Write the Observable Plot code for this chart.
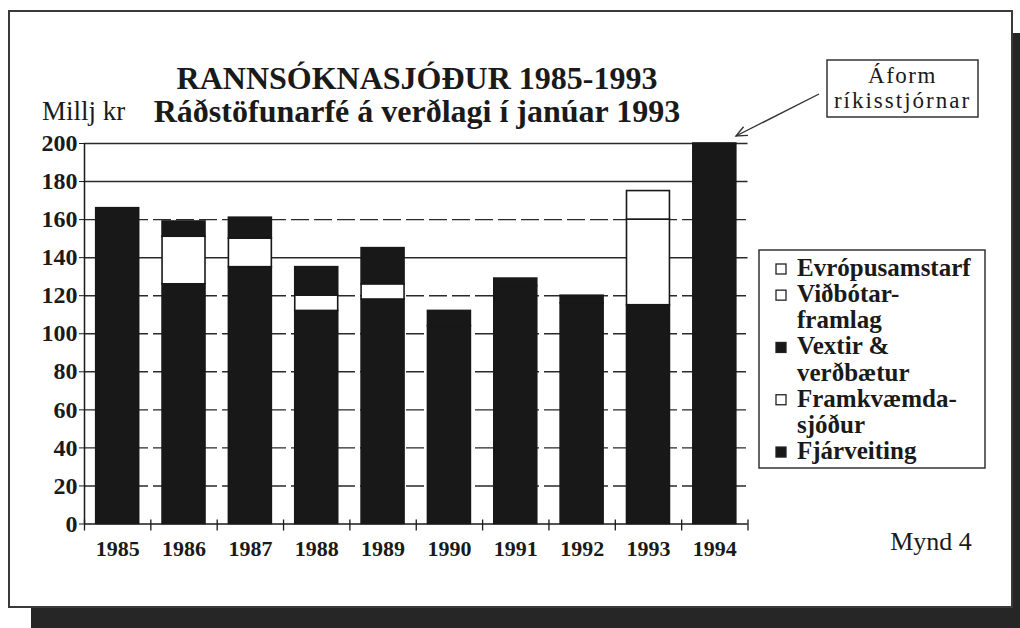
<!DOCTYPE html>
<html>
<head>
<meta charset="utf-8">
<script src="https://cdn.jsdelivr.net/npm/d3@7"></script>
<script src="https://cdn.jsdelivr.net/npm/@observablehq/plot@0.6"></script>
<style>
  body { margin: 0; background: #fff; }
  #page { position: relative; width: 1020px; height: 628px; overflow: hidden; background: #fff;
          font-family: "Liberation Serif", "Times New Roman", serif; color: #1a1a1a; }
  #shadow { position: absolute; left: 31px; top: 33px; width: 1100px; height: 700px; background: #262626; }
  #frame { position: absolute; left: 8px; top: 10px; width: 1001px; height: 594px;
           border: 2px solid #3a3a3a; background: #fff; }
  #chart, #overlay { position: absolute; left: 0; top: 0; }
</style>
</head>
<body>
<div id="page">
  <div id="shadow"></div>
  <div id="frame"></div>
  <div id="chart"></div>
  <svg id="overlay" width="1020" height="628" font-family="Liberation Serif, Times New Roman, serif" fill="#1a1a1a"></svg>
</div>
<script>
// ---------- data (Millj kr, verðlag í janúar 1993) ----------
const years = ["1985", "1986", "1987", "1988", "1989", "1990", "1991", "1992", "1993", "1994"];
const fjarveiting       = [166, 126, 135, 112, 118, 104, 125, 116, 115, 200];
const framkvaemdasjodur = [  0,  25,  15,   8,   8,   0,   0,   0,   0,   0];
const vextir            = [  0,   8,  11,  15,  19,   8,   4,   4,   0,   0];
const vidbotarframlag   = [  0,   0,   0,   0,   0,   0,   0,   0,  45,   0];
const evropusamstarf    = [  0,   0,   0,   0,   0,   0,   0,   0,  15,   0];

// stacking order, bottom to top
const seriesNames = ["Fjárveiting", "Framkvæmdasjóður", "Vextir & verðbætur", "Viðbótarframlag", "Evrópusamstarf"];
const seriesValues = [fjarveiting, framkvaemdasjodur, vextir, vidbotarframlag, evropusamstarf];
const seriesColors = ["#181818", "#ffffff", "#181818", "#ffffff", "#ffffff"];

const yTicks = [0, 20, 40, 60, 80, 100, 120, 140, 160, 180, 200];
const gridSolid = [140, 180, 200];
const gridDashed = [20, 40, 60, 80, 100, 120, 160];

// legend, top to bottom, with its printed line breaks
const legendEntries = [
  {series: "Evrópusamstarf", lines: ["Evrópusamstarf"]},
  {series: "Viðbótarframlag", lines: ["Viðbótar-", "framlag"]},
  {series: "Vextir & verðbætur", lines: ["Vextir &", "verðbætur"]},
  {series: "Framkvæmdasjóður", lines: ["Framkvæmda-", "sjóður"]},
  {series: "Fjárveiting", lines: ["Fjárveiting"]}
];

// ---------- table built from the arrays ----------
const rows = [];
years.forEach((year, i) => {
  let base = 0;
  seriesNames.forEach((s, k) => {
    const v = seriesValues[k][i];
    if (v > 0) rows.push({i, year, series: s, y1: base, y2: base + v});
    base += v;
  });
});
const index = years.map((_, i) => i);
const boundaries = years.map((_, i) => i - 0.5).concat([years.length - 0.5]);

const ink = "#1a1a1a";
const chart = Plot.plot({
  width: 1020,
  height: 628,
  marginLeft: 84,
  marginRight: 272.5,
  marginTop: 143,
  marginBottom: 104.5,
  style: {background: "transparent", fontFamily: "Liberation Serif, Times New Roman, serif", color: ink, overflow: "visible"},
  x: {domain: [-0.5, years.length - 0.5], axis: null},
  y: {domain: [0, 200], axis: null},
  color: {domain: seriesNames, range: seriesColors},
  marks: [
    Plot.ruleY(gridDashed, {stroke: "#2a2a2a", strokeWidth: 1.4, strokeDasharray: "18,5"}),
    Plot.ruleY(gridSolid, {stroke: "#2a2a2a", strokeWidth: 1.5}),
    Plot.rectY(rows, {
      x1: d => d.i - 0.5, x2: d => d.i + 0.5, y1: "y1", y2: "y2",
      fill: "series", stroke: "#181818", strokeWidth: 1.6,
      insetLeft: 11.7, insetRight: 11.7
    }),
    Plot.ruleY([0], {stroke: ink, strokeWidth: 1.5}),
    Plot.ruleX([-0.5], {stroke: ink, strokeWidth: 1.5}),
    Plot.ruleX(boundaries, {y1: 0, y2: 0, insetTop: -4, insetBottom: -7, stroke: ink, strokeWidth: 1.3}),
    Plot.axisY({ticks: yTicks, tickSize: 5, tickPadding: 2, fontSize: 24, fontWeight: "bold", label: null, anchor: "left"}),
    Plot.axisX({ticks: index, tickFormat: i => years[i], tickSize: 0, tickPadding: 16, fontSize: 22, fontWeight: "bold", label: null, anchor: "bottom"})
  ]
});
document.getElementById("chart").append(chart);

// ---------- titles, annotation, legend ----------
const svg = d3.select("#overlay");
svg.append("text").attr("x", 417).attr("y", 89).attr("text-anchor", "middle")
  .attr("font-size", 32).attr("font-weight", "bold").text("RANNSÓKNASJÓÐUR 1985-1993");
svg.append("text").attr("x", 417).attr("y", 122).attr("text-anchor", "middle")
  .attr("font-size", 32).attr("font-weight", "bold").text("Ráðstöfunarfé á verðlagi í janúar 1993");
svg.append("text").attr("x", 42).attr("y", 120).attr("font-size", 27).text("Millj kr");
svg.append("text").attr("x", 931).attr("y", 550).attr("text-anchor", "middle").attr("font-size", 26).text("Mynd 4");

// annotation box + arrow
svg.append("rect").attr("x", 827).attr("y", 60).attr("width", 151).attr("height", 57)
  .attr("fill", "#fff").attr("stroke", "#333").attr("stroke-width", 1.5);
svg.append("text").attr("x", 902.5).attr("y", 83).attr("text-anchor", "middle")
  .attr("font-size", 23).attr("letter-spacing", 1.5).text("Áform");
svg.append("text").attr("x", 902.5).attr("y", 108).attr("text-anchor", "middle")
  .attr("font-size", 23).attr("letter-spacing", 2).text("ríkisstjórnar");
{
  const [sx, sy, tx, ty] = [819, 94, 736, 136];
  const a = Math.atan2(sy - ty, sx - tx), L = 12, w = 0.42;
  svg.append("line").attr("x1", sx).attr("y1", sy).attr("x2", tx).attr("y2", ty)
    .attr("stroke", "#333").attr("stroke-width", 1.4);
  svg.append("path")
    .attr("d", `M${tx + L * Math.cos(a + w)},${ty + L * Math.sin(a + w)}L${tx},${ty}L${tx + L * Math.cos(a - w)},${ty + L * Math.sin(a - w)}`)
    .attr("fill", "none").attr("stroke", "#333").attr("stroke-width", 1.4);
}

// legend
const colorOf = Object.fromEntries(seriesNames.map((s, k) => [s, seriesColors[k]]));
svg.append("rect").attr("x", 759).attr("y", 250).attr("width", 226).attr("height", 218)
  .attr("fill", "#fff").attr("stroke", "#333").attr("stroke-width", 1.5);
let line = 0;
const base0 = 276, lh = 26.15;
legendEntries.forEach(e => {
  const by = base0 + line * lh;
  svg.append("rect").attr("x", 776).attr("y", by - 12).attr("width", 10).attr("height", 10)
    .attr("fill", colorOf[e.series]).attr("stroke", "#222").attr("stroke-width", 1.3);
  e.lines.forEach((t, j) => {
    svg.append("text").attr("x", 797).attr("y", base0 + (line + j) * lh)
      .attr("font-size", 25).attr("font-weight", "bold").text(t);
  });
  line += e.lines.length;
});
</script>
</body>
</html>
